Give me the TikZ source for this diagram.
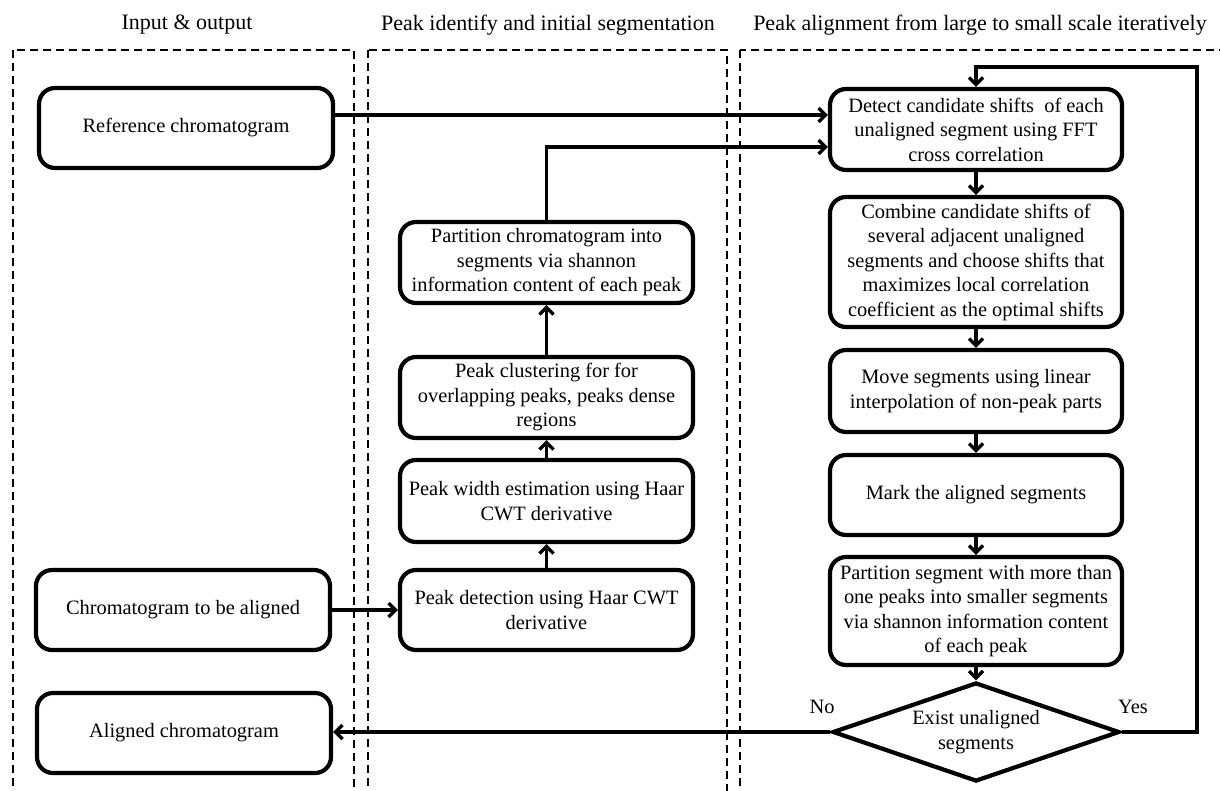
\documentclass[tikz,border=0pt]{standalone}
\usepackage{fontspec}
\setmainfont{Liberation Serif}
\usetikzlibrary{shapes.geometric,arrows.meta}
\begin{document}
\begin{tikzpicture}[x=1pt,y=-1pt,
  box/.style={draw, line width=4.2pt, rounded corners=16pt, align=center, inner sep=0pt,
    font=\fontsize{20.4}{24.5}\selectfont, minimum height=80pt},
  lbox/.style={box, minimum width=294pt},
  mbox/.style={box, minimum width=293pt},
  rbox/.style={box, minimum width=292pt},
  decision/.style={draw, diamond, line width=4.2pt, aspect=2.9, inner sep=0pt, align=center,
    font=\fontsize{20.4}{24.5}\selectfont, minimum width=287pt, minimum height=99pt},
  arr/.style={line width=3.8pt, -{Straight Barb[length=7pt,width=14pt,line width=3.4pt]}},
  region/.style={draw, line width=1.3pt, dash pattern=on 8pt off 5pt},
  head/.style={font=\fontsize{22}{26}\selectfont, inner sep=0pt},
  lab/.style={font=\fontsize{20.4}{24.5}\selectfont, inner sep=0pt},
]
\useasboundingbox (0,0) rectangle (1220,790);
\clip (0,0) rectangle (1220,790);

% regions
\draw[region] (13,50) rectangle (354,820);
\draw[region] (368,50) rectangle (727,820);
\draw[region] (740,50) rectangle (1260,820);

\node[head] (h1) at (187,25) {Input \& output};
\node[head] (h2) at (548,25) {Peak identify and initial segmentation};
\node[head] (h3) at (980,25) {Peak alignment from large to small scale iteratively};

% left column
\node[lbox] (ref) at (186,128) {Reference chromatogram};
\node[lbox] (chrom) at (183,610) {Chromatogram to be aligned};
\node[lbox] (aligned) at (184,733) {Aligned chromatogram};

% middle column
\node[mbox, minimum height=81pt] (part) at (546.5,262.5) {Partition chromatogram into\\segments via shannon\\information content of each peak};
\node[mbox, minimum height=81pt] (clust) at (546.5,397.5) {Peak clustering for for\\overlapping peaks, peaks dense\\regions};
\node[mbox, minimum height=82pt] (width) at (546.5,501) {Peak width estimation using Haar\\CWT derivative};
\node[mbox] (peakdet) at (546.5,610) {Peak detection using Haar CWT\\derivative};

% right column
\node[rbox, minimum height=81pt] (detect) at (976,129.5) {Detect candidate shifts\ \ of each\\unaligned segment using FFT\\cross correlation};
\node[rbox, minimum height=130pt] (combine) at (976,262) {Combine candidate shifts of\\several adjacent unaligned\\segments and choose shifts that\\maximizes local correlation\\coefficient as the optimal shifts};
\node[rbox, minimum height=82pt] (move) at (976,391) {Move segments using linear\\interpolation of non-peak parts};
\node[rbox] (mark) at (976,495) {Mark the aligned segments};
\node[rbox, minimum height=108pt] (partseg) at (976,611) {Partition segment with more than\\one peaks into smaller segments\\via shannon information content\\of each peak};
\node[decision] (dia) at (976,732) {Exist unaligned\\segments};

\node[lab] (no) at (822,707) {No};
\node[lab] (yes) at (1133,707) {Yes};

% helper coordinates
\coordinate (yr) at (0,115);
\coordinate (yp) at (0,147);
\coordinate (loop) at (1197,67);

% connectors
\draw[arr] (ref.east |- yr) -- (detect.west |- yr);
\draw[arr] (part.north) |- (detect.west |- yp);
\draw[arr] (chrom.east) -- (peakdet.west |- chrom.east);
\draw[arr] (peakdet.north) -- (width.south);
\draw[arr] (width.north) -- (clust.south);
\draw[arr] (clust.north) -- (part.south);
\draw[arr] (detect.south) -- (combine.north);
\draw[arr] (combine.south) -- (move.north);
\draw[arr] (move.south) -- (mark.north);
\draw[arr] (mark.south) -- (partseg.north);
\draw[arr] (partseg.south) -- (dia.north);
\draw[arr] (dia.east) -| (loop) -| (detect.north);
\draw[arr] (dia.west) -- (aligned.east |- dia.west);
\end{tikzpicture}
\end{document}
